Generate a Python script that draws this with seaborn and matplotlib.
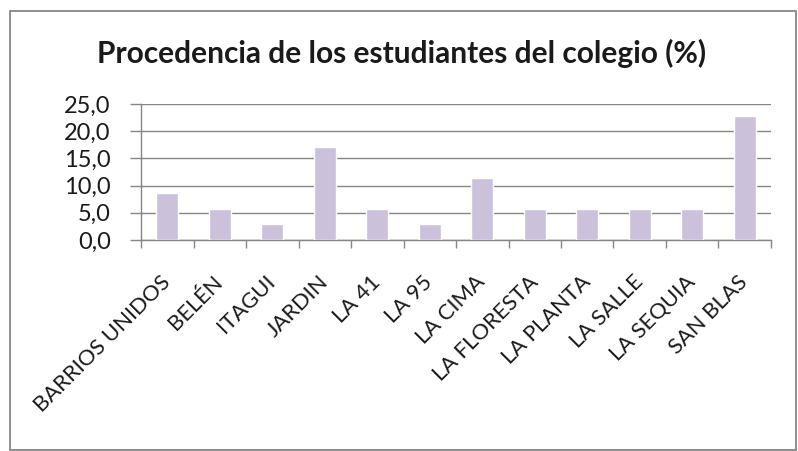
import matplotlib
matplotlib.use("Agg")
import matplotlib.pyplot as plt
import matplotlib.patches as mpatches
from matplotlib.ticker import FuncFormatter
import pandas as pd
import seaborn as sns

# data (% of students by neighbourhood)
barrios = ["BARRIOS UNIDOS", "BELÉN", "ITAGUI", "JARDIN", "LA 41", "LA 95",
           "LA CIMA", "LA FLORESTA", "LA PLANTA", "LA SALLE", "LA SEQUIA", "SAN BLAS"]
porcentaje = [8.6, 5.7, 2.9, 17.1, 5.7, 2.9, 11.4, 5.7, 5.7, 5.7, 5.7, 22.9]
yticks = [0, 5, 10, 15, 20, 25]

sns.set_style("white")
plt.rcParams['font.family'] = ['Lato', 'DejaVu Sans']

df = pd.DataFrame({"barrio": barrios, "pct": porcentaje})

fig = plt.figure(figsize=(7.98, 4.51), dpi=100)
ax = fig.add_axes([0.177, 0.468, 0.789, 0.301])

sns.barplot(data=df, x="barrio", y="pct", color="#CCC1DA", width=0.42,
            saturation=1, ax=ax, zorder=3)

ax.set_ylim(0, 25)
ax.set_xlim(-0.5, len(barrios) - 0.5)
ax.set_yticks(yticks)
ax.yaxis.set_major_formatter(FuncFormatter(lambda v, p: f"{v:.1f}".replace(".", ",")))
ax.grid(axis="y", color="#868686", linewidth=1, zorder=0)
ax.set_xlabel("")
ax.set_ylabel("")

for s in ["top", "right"]:
    ax.spines[s].set_visible(False)
for s in ["left", "bottom"]:
    ax.spines[s].set_color("#868686")
    ax.spines[s].set_linewidth(1)

ax.tick_params(axis="y", labelsize=17, length=8, width=1, color="#868686",
               direction="out", left=True, pad=14, labelcolor="#1a1a1a")
ax.tick_params(axis="x", which="major", length=0, labelsize=15.8, pad=28,
               labelcolor="#1a1a1a")
ax.set_xticks([i - 0.5 for i in range(len(barrios) + 1)], minor=True)
ax.tick_params(axis="x", which="minor", length=6, width=1, color="#868686",
               direction="out", bottom=True)
plt.setp(ax.get_xticklabels(), rotation=45, ha="right", va="center",
         rotation_mode="anchor")

fig.text(0.503, 0.882, "Procedencia de los estudiantes del colegio (%)",
         ha="center", va="center", fontsize=21.5, fontweight="bold", color="#1a1a1a")

border = mpatches.Rectangle((0.012, 0.003), 0.985, 0.972, transform=fig.transFigure,
                            fill=False, edgecolor="#868686", linewidth=1.3)
fig.patches.append(border)

fig.savefig("out.png", dpi=100)
